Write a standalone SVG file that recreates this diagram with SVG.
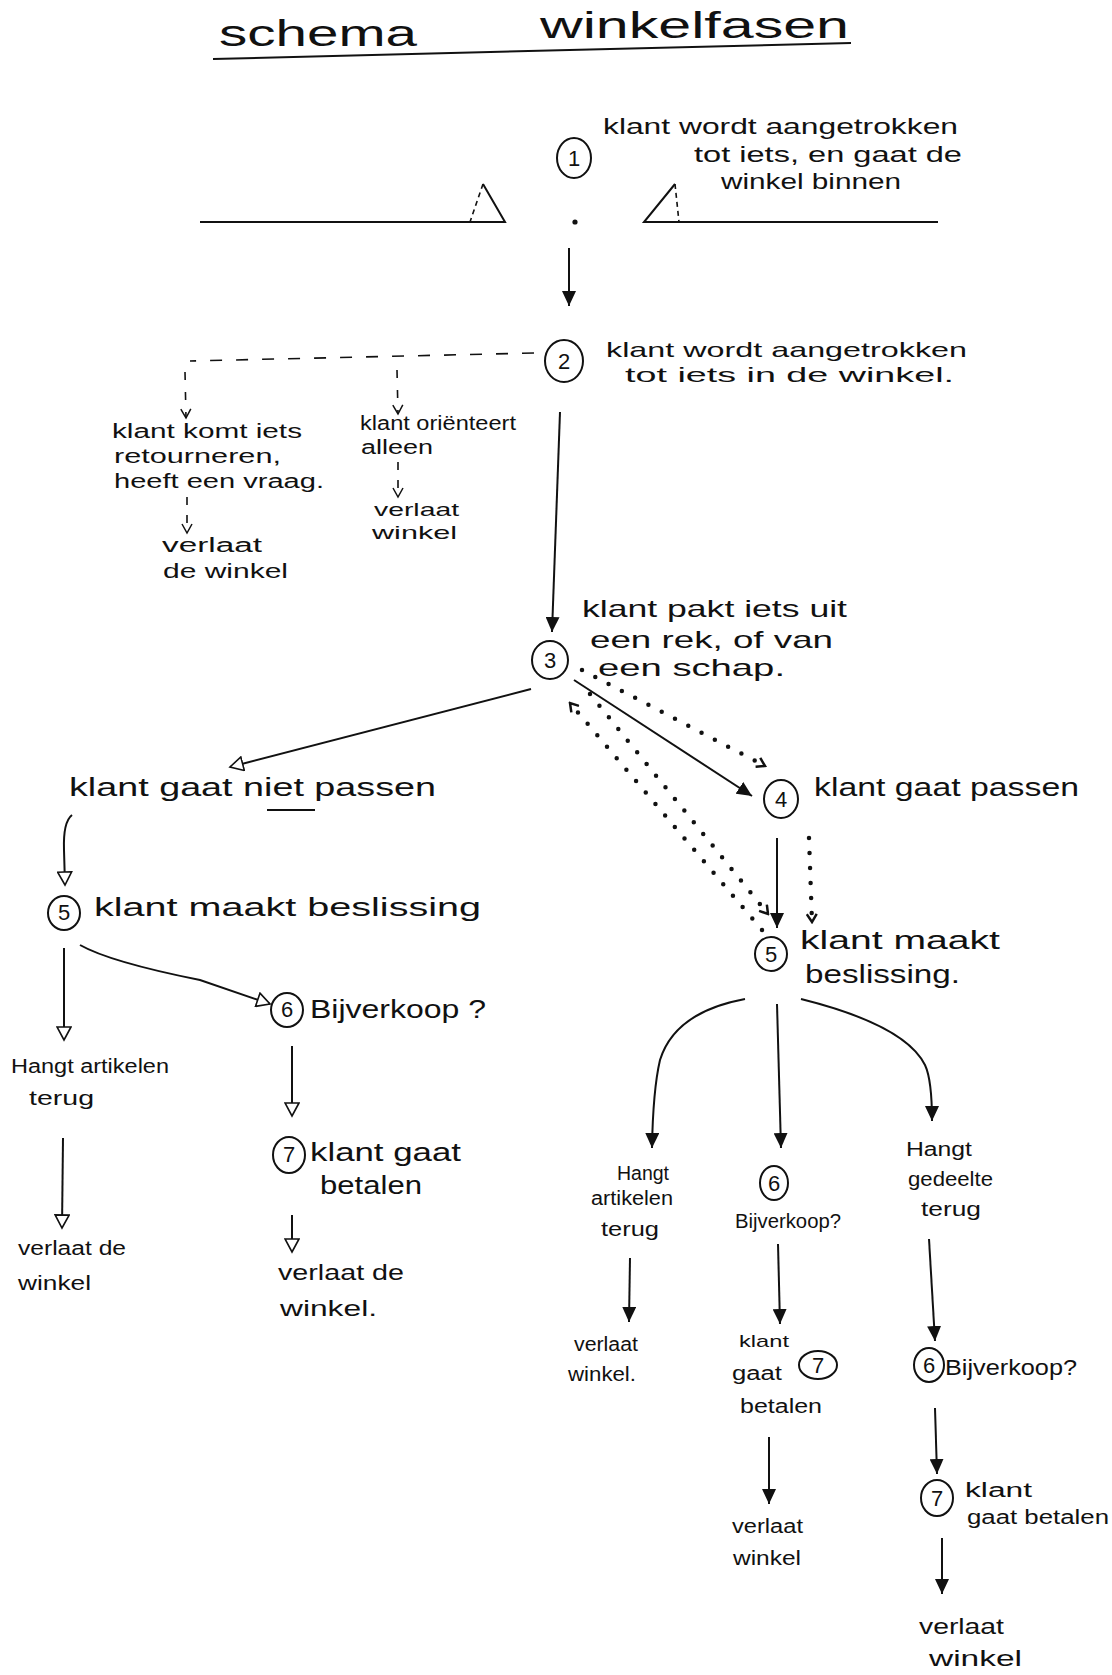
<svg xmlns="http://www.w3.org/2000/svg" width="1112" height="1675" viewBox="0 0 1112 1675">
<style>
.t{font-family:"Liberation Sans",Arial,sans-serif;font-size:22px;fill:#111}
.s{font-size:20px}
.n{font-family:"Liberation Sans",Arial,sans-serif;font-size:22px;fill:#111;text-anchor:middle}
.c{fill:none;stroke:#111;stroke-width:2}
.l{fill:none;stroke:#111;stroke-width:2}
.dash{stroke-dasharray:12 14;stroke-width:1.6}
.dot{stroke-dasharray:0 15;stroke-linecap:round;stroke-width:4.5}
</style>
<defs>
<marker id="fa" markerUnits="userSpaceOnUse" markerWidth="16" markerHeight="14" refX="15" refY="7" orient="auto"><path d="M0,0 L15,7 L0,14 z" fill="#111"/></marker>
<marker id="oa" markerUnits="userSpaceOnUse" markerWidth="16" markerHeight="16" refX="14" refY="8" orient="auto"><path d="M1,1 L14,8 L1,15 z" fill="#fff" stroke="#111" stroke-width="1.6"/></marker>
<marker id="va" markerUnits="userSpaceOnUse" markerWidth="12" markerHeight="12" refX="10" refY="6" orient="auto"><path d="M1,1 L10,6 L1,11" fill="none" stroke="#111" stroke-width="1.5"/></marker>
<marker id="da" markerUnits="userSpaceOnUse" markerWidth="12" markerHeight="12" refX="10" refY="6" orient="auto"><path d="M2,1 L10,6 L2,11" fill="none" stroke="#111" stroke-width="2.5"/></marker>
</defs>
<rect width="1112" height="1675" fill="#fff"/>

<g id="title">
<text class="t" x="219" y="46" style="font-size:36px" textLength="198" lengthAdjust="spacingAndGlyphs">schema</text>
<text class="t" x="540" y="38" style="font-size:36px" textLength="309" lengthAdjust="spacingAndGlyphs">winkelfasen</text>
<path class="l" d="M213,59 L851,43" stroke-width="2.5"/>
</g>

<g id="entrance">
<path class="l" d="M200,222 L505,222 L483,184"/>
<path class="l dash" style="stroke-dasharray:5 4" d="M483,184 L470,222"/>
<path class="l" d="M938,222 L644,222 L675,184"/>
<path class="l dash" style="stroke-dasharray:5 4" d="M675,184 L679,222"/>
<circle cx="575" cy="222" r="2.6" fill="#111"/>
</g>

<g id="node1">
<ellipse class="c" cx="574" cy="158" rx="17" ry="20"/>
<text class="n" x="574" y="166">1</text>
<text class="t" x="603" y="134" textLength="355" lengthAdjust="spacingAndGlyphs">klant wordt aangetrokken</text>
<text class="t" x="694" y="162" textLength="268" lengthAdjust="spacingAndGlyphs">tot iets, en gaat de</text>
<text class="t" x="721" y="189" textLength="180" lengthAdjust="spacingAndGlyphs">winkel binnen</text>
</g>

<g id="node2">
<ellipse class="c" cx="564" cy="361" rx="19" ry="21"/>
<text class="n" x="564" y="369">2</text>
<text class="t" x="606" y="357" style="font-size:21px" textLength="361" lengthAdjust="spacingAndGlyphs">klant wordt aangetrokken</text>
<text class="t" x="625" y="382" style="font-size:21px" textLength="329" lengthAdjust="spacingAndGlyphs">tot iets in de winkel.</text>
</g>

<g id="node2a">
<text class="t s" x="112" y="438" textLength="190" lengthAdjust="spacingAndGlyphs">klant komt iets</text>
<text class="t s" x="114" y="463" textLength="167" lengthAdjust="spacingAndGlyphs">retourneren,</text>
<text class="t s" x="114" y="488" textLength="210" lengthAdjust="spacingAndGlyphs">heeft een vraag.</text>
</g>
<g id="node2a-exit">
<text class="t s" x="162" y="552" textLength="100" lengthAdjust="spacingAndGlyphs">verlaat</text>
<text class="t s" x="163" y="578" textLength="125" lengthAdjust="spacingAndGlyphs">de winkel</text>
</g>
<g id="node2b">
<text class="t s" x="360" y="430" textLength="156" lengthAdjust="spacingAndGlyphs">klant oriënteert</text>
<text class="t s" x="361" y="454" textLength="72" lengthAdjust="spacingAndGlyphs">alleen</text>
</g>
<g id="node2b-exit">
<text class="t s" x="374" y="516" style="font-size:19px" textLength="85" lengthAdjust="spacingAndGlyphs">verlaat</text>
<text class="t s" x="372" y="539" style="font-size:19px" textLength="85" lengthAdjust="spacingAndGlyphs">winkel</text>
</g>

<g id="node3">
<ellipse class="c" cx="550" cy="660" rx="18" ry="19"/>
<text class="n" x="550" y="668">3</text>
<text class="t" x="582" y="617" style="font-size:24px" textLength="265" lengthAdjust="spacingAndGlyphs">klant pakt iets uit</text>
<text class="t" x="590" y="648" style="font-size:24px" textLength="243" lengthAdjust="spacingAndGlyphs">een rek, of van</text>
<text class="t" x="598" y="676" style="font-size:24px" textLength="187" lengthAdjust="spacingAndGlyphs">een schap.</text>
</g>

<g id="nietpassen">
<text class="t" x="69" y="796" style="font-size:26px" textLength="367" lengthAdjust="spacingAndGlyphs">klant gaat niet passen</text>
<path class="l" d="M267,810 L315,810"/>
</g>

<g id="node5L">
<ellipse class="c" cx="64" cy="913" rx="16" ry="17"/>
<text class="n" x="64" y="920">5</text>
<text class="t" x="94" y="916" style="font-size:26px" textLength="387" lengthAdjust="spacingAndGlyphs">klant maakt beslissing</text>
</g>
<g id="hangtL">
<text class="t s" x="11" y="1073" textLength="158" lengthAdjust="spacingAndGlyphs">Hangt artikelen</text>
<text class="t s" x="29" y="1105" textLength="65" lengthAdjust="spacingAndGlyphs">terug</text>
</g>
<g id="exitL1">
<text class="t s" x="18" y="1255" textLength="108" lengthAdjust="spacingAndGlyphs">verlaat de</text>
<text class="t s" x="18" y="1290" textLength="73" lengthAdjust="spacingAndGlyphs">winkel</text>
</g>
<g id="node6L">
<ellipse class="c" cx="287" cy="1010" rx="16" ry="17"/>
<text class="n" x="287" y="1017">6</text>
<text class="t" x="310" y="1018" style="font-size:25px" textLength="176" lengthAdjust="spacingAndGlyphs">Bijverkoop ?</text>
</g>
<g id="node7L">
<ellipse class="c" cx="289" cy="1155" rx="16" ry="18"/>
<text class="n" x="289" y="1162">7</text>
<text class="t" x="310" y="1161" style="font-size:25px" textLength="151" lengthAdjust="spacingAndGlyphs">klant gaat</text>
<text class="t" x="320" y="1194" style="font-size:25px" textLength="102" lengthAdjust="spacingAndGlyphs">betalen</text>
</g>
<g id="exitL2">
<text class="t s" x="278" y="1280" style="font-size:22px" textLength="126" lengthAdjust="spacingAndGlyphs">verlaat de</text>
<text class="t s" x="280" y="1316" style="font-size:22px" textLength="97" lengthAdjust="spacingAndGlyphs">winkel.</text>
</g>

<g id="node4">
<ellipse class="c" cx="781" cy="799" rx="17" ry="19"/>
<text class="n" x="781" y="807">4</text>
<text class="t" x="814" y="796" style="font-size:26px" textLength="265" lengthAdjust="spacingAndGlyphs">klant gaat passen</text>
</g>
<g id="node5R">
<ellipse class="c" cx="771" cy="954" rx="16" ry="17"/>
<text class="n" x="771" y="962">5</text>
<text class="t" x="800" y="949" style="font-size:25px" textLength="200" lengthAdjust="spacingAndGlyphs">klant maakt</text>
<text class="t" x="805" y="983" style="font-size:25px" textLength="155" lengthAdjust="spacingAndGlyphs">beslissing.</text>
</g>
<g id="hangtR1">
<text class="t s" x="617" y="1180" textLength="52" lengthAdjust="spacingAndGlyphs">Hangt</text>
<text class="t s" x="591" y="1205" textLength="82" lengthAdjust="spacingAndGlyphs">artikelen</text>
<text class="t s" x="601" y="1236" textLength="58" lengthAdjust="spacingAndGlyphs">terug</text>
</g>
<g id="exitR1">
<text class="t s" x="574" y="1351" textLength="64" lengthAdjust="spacingAndGlyphs">verlaat</text>
<text class="t s" x="568" y="1381" textLength="68" lengthAdjust="spacingAndGlyphs">winkel.</text>
</g>
<g id="node6M">
<ellipse class="c" cx="774" cy="1183" rx="14" ry="17"/>
<text class="n" x="774" y="1191">6</text>
<text class="t s" x="735" y="1228" textLength="106" lengthAdjust="spacingAndGlyphs">Bijverkoop?</text>
</g>
<g id="node7M">
<text class="t s" x="739" y="1347" style="font-size:17px" textLength="50" lengthAdjust="spacingAndGlyphs">klant</text>
<ellipse class="c" cx="818" cy="1365" rx="19" ry="14"/>
<text class="n" x="818" y="1373">7</text>
<text class="t s" x="732" y="1380" textLength="50" lengthAdjust="spacingAndGlyphs">gaat</text>
<text class="t s" x="740" y="1413" textLength="82" lengthAdjust="spacingAndGlyphs">betalen</text>
</g>
<g id="exitR2">
<text class="t s" x="732" y="1533" textLength="71" lengthAdjust="spacingAndGlyphs">verlaat</text>
<text class="t s" x="733" y="1565" textLength="68" lengthAdjust="spacingAndGlyphs">winkel</text>
</g>
<g id="hangtR3">
<text class="t s" x="906" y="1156" textLength="66" lengthAdjust="spacingAndGlyphs">Hangt</text>
<text class="t s" x="908" y="1186" textLength="85" lengthAdjust="spacingAndGlyphs">gedeelte</text>
<text class="t s" x="921" y="1216" textLength="60" lengthAdjust="spacingAndGlyphs">terug</text>
</g>
<g id="node6R">
<ellipse class="c" cx="929" cy="1365" rx="15" ry="17"/>
<text class="n" x="929" y="1373">6</text>
<text class="t s" x="945" y="1375" style="font-size:22px" textLength="132" lengthAdjust="spacingAndGlyphs">Bijverkoop?</text>
</g>
<g id="node7R">
<ellipse class="c" cx="937" cy="1498" rx="16" ry="18"/>
<text class="n" x="937" y="1506">7</text>
<text class="t s" x="965" y="1497" textLength="67" lengthAdjust="spacingAndGlyphs">klant</text>
<text class="t s" x="967" y="1524" textLength="142" lengthAdjust="spacingAndGlyphs">gaat betalen</text>
</g>
<g id="exitR3">
<text class="t s" x="919" y="1634" style="font-size:22px" textLength="85" lengthAdjust="spacingAndGlyphs">verlaat</text>
<text class="t s" x="929" y="1666" style="font-size:22px" textLength="93" lengthAdjust="spacingAndGlyphs">winkel</text>
</g>

<g id="connectors">
<path class="l" d="M569,248 L569,306" marker-end="url(#fa)"/>
<path class="l dash" d="M534,353 L190,361"/>
<path class="l dash" style="stroke-dasharray:8 12" d="M185,372 L186,418" marker-end="url(#va)"/>
<path class="l dash" style="stroke-dasharray:8 12" d="M397,370 L398,414" marker-end="url(#va)"/>
<path class="l dash" style="stroke-dasharray:8 10" d="M187,497 L187,533" marker-end="url(#va)"/>
<path class="l dash" style="stroke-dasharray:8 10" d="M398,462 L398,497" marker-end="url(#va)"/>
<path class="l" d="M560,412 L552,632" marker-end="url(#fa)"/>
<path class="l" d="M531,689 L230,767" marker-end="url(#oa)"/>
<path class="l" d="M72,815 Q63,822 64,850 L65,885" marker-end="url(#oa)"/>
<path class="l" d="M64,948 L64,1040" marker-end="url(#oa)"/>
<path class="l" d="M80,945 Q110,962 200,980 L270,1004" marker-end="url(#oa)"/>
<path class="l" d="M63,1138 L62,1228" marker-end="url(#oa)"/>
<path class="l" d="M292,1046 L292,1116" marker-end="url(#oa)"/>
<path class="l" d="M292,1215 L292,1252" marker-end="url(#oa)"/>
<path class="l" d="M574,680 L752,796" marker-end="url(#fa)"/>
<path class="l" d="M777,838 L777,928" marker-end="url(#fa)"/>
<path class="l dot" d="M582,670 L765,766" marker-end="url(#da)"/>
<path class="l dot" d="M809,838 L812,922" marker-end="url(#da)"/>
<path class="l dot" d="M590,694 L768,914" marker-end="url(#da)"/>
<path class="l dot" d="M762,930 L570,703" marker-end="url(#da)"/>
<path class="l" d="M745,999 Q675,1012 660,1060 Q653,1090 652,1148" marker-end="url(#fa)"/>
<path class="l" d="M777,1004 L781,1148" marker-end="url(#fa)"/>
<path class="l" d="M801,999 Q905,1025 925,1065 Q932,1080 932,1121" marker-end="url(#fa)"/>
<path class="l" d="M630,1258 L629,1322" marker-end="url(#fa)"/>
<path class="l" d="M778,1244 L780,1324" marker-end="url(#fa)"/>
<path class="l" d="M769,1437 L769,1504" marker-end="url(#fa)"/>
<path class="l" d="M929,1239 L935,1341" marker-end="url(#fa)"/>
<path class="l" d="M935,1408 L937,1474" marker-end="url(#fa)"/>
<path class="l" d="M942,1538 L942,1594" marker-end="url(#fa)"/>
</g>
</svg>
